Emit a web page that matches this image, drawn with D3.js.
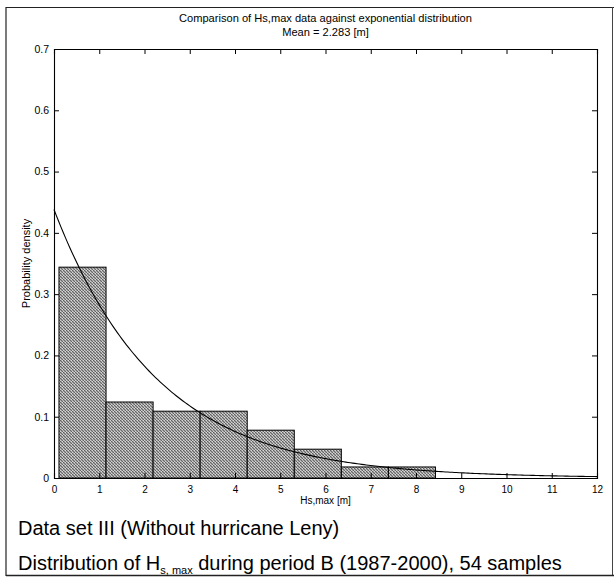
<!DOCTYPE html>
<html>
<head>
<meta charset="utf-8">
<script src="https://cdn.jsdelivr.net/npm/d3@7/dist/d3.min.js"></script>
<style>
  html, body { margin: 0; padding: 0; background: #fff; }
  svg { display: block; font-family: "Liberation Sans", Arial, Helvetica, sans-serif; }
</style>
</head>
<body>
<svg id="chart" width="614" height="577"></svg>
<script>
// Histogram of Hs,max (bin edges in metres) and its probability density per bin
const binEdges = [0.11, 1.15, 2.19, 3.23, 4.27, 5.31, 6.35, 7.39, 8.43];
const density = [0.344, 0.124, 0.109, 0.109, 0.078, 0.047, 0.018, 0.018];
// Mean of the sample, used for the fitted exponential density
const meanHs = 2.283;
const xTicks = [0, 1, 2, 3, 4, 5, 6, 7, 8, 9, 10, 11, 12];
const yTicks = [0, 0.1, 0.2, 0.3, 0.4, 0.5, 0.6, 0.7];
const curveX = d3.range(0, 12.001, 0.05);

const svg = d3.select("#chart");
const m = { left: 54, right: 597, top: 49, bottom: 478 };

const x = d3.scaleLinear().domain([0, 12]).range([m.left, m.right]);
const y = d3.scaleLinear().domain([0, 0.7]).range([m.bottom, m.top]);

// halftone-like grey fill for the bars
const defs = svg.append("defs");
const pat = defs.append("pattern").attr("id", "dither")
  .attr("width", 3).attr("height", 3).attr("patternUnits", "userSpaceOnUse");
pat.append("rect").attr("width", 3).attr("height", 3).attr("fill", "#a8a8a8");
pat.append("rect").attr("x", 0).attr("y", 0).attr("width", 1).attr("height", 1).attr("fill", "#5e5e5e");
pat.append("rect").attr("x", 1).attr("y", 1).attr("width", 1).attr("height", 1).attr("fill", "#6a6a6a");
pat.append("rect").attr("x", 2).attr("y", 2).attr("width", 1).attr("height", 1).attr("fill", "#646464");
pat.append("rect").attr("x", 2).attr("y", 0).attr("width", 1).attr("height", 1).attr("fill", "#d8d8d8");
pat.append("rect").attr("x", 0).attr("y", 2).attr("width", 1).attr("height", 1).attr("fill", "#cfcfcf");

// outer frame of the figure
svg.append("line").attr("x1", 6).attr("x2", 614).attr("y1", 7.5).attr("y2", 7.5)
  .attr("stroke", "#222").attr("stroke-width", 1.2);
svg.append("line").attr("x1", 6).attr("x2", 6).attr("y1", 7).attr("y2", 576)
  .attr("stroke", "#222").attr("stroke-width", 1.2);
svg.append("line").attr("x1", 612.5).attr("x2", 612.5).attr("y1", 7).attr("y2", 576)
  .attr("stroke", "#444").attr("stroke-width", 1);
svg.append("line").attr("x1", 6).attr("x2", 614).attr("y1", 575.5).attr("y2", 575.5)
  .attr("stroke", "#222").attr("stroke-width", 1.5);

// bars
const bins = density.map((d, i) => ({ x0: binEdges[i], x1: binEdges[i + 1], v: d }));
svg.append("g").selectAll("rect").data(bins).join("rect")
  .attr("x", d => x(d.x0))
  .attr("y", d => y(d.v))
  .attr("width", d => x(d.x1) - x(d.x0))
  .attr("height", d => y(0) - y(d.v))
  .attr("fill", "url(#dither)")
  .attr("stroke", "#000")
  .attr("stroke-width", 1);

// exponential density with the sample mean
const line = d3.line().x(d => x(d)).y(d => y(Math.exp(-d / meanHs) / meanHs));
svg.append("path").datum(curveX).attr("d", line)
  .attr("fill", "none").attr("stroke", "#000").attr("stroke-width", 1.1);

// axes box with inward ticks on all four sides
const tickLen = 5;
const axB = svg.append("g").attr("transform", `translate(0,${m.bottom})`)
  .call(d3.axisBottom(x).tickValues(xTicks).tickSize(-tickLen).tickPadding(3).tickFormat(d3.format("d")));
const axT = svg.append("g").attr("transform", `translate(0,${m.top})`)
  .call(d3.axisTop(x).tickValues(xTicks).tickSize(-tickLen).tickFormat(""));
const axL = svg.append("g").attr("transform", `translate(${m.left},0)`)
  .call(d3.axisLeft(y).tickValues(yTicks).tickSize(-tickLen).tickPadding(5)
    .tickFormat(d => d === 0 ? "0" : d3.format(".1f")(d)));
const axR = svg.append("g").attr("transform", `translate(${m.right},0)`)
  .call(d3.axisRight(y).tickValues(yTicks).tickSize(-tickLen).tickFormat(""));

[axB, axT, axL, axR].forEach(g => {
  g.select(".domain").attr("stroke", "#000").attr("stroke-width", 1.1);
  g.selectAll(".tick line").attr("stroke", "#000");
  g.selectAll("text").attr("font-family", "Liberation Sans, Arial, sans-serif")
    .attr("font-size", 10.5).attr("fill", "#000");
});
// bottom tick labels sit tight under the axis
axB.selectAll(".tick text").attr("y", 0).attr("dy", 0).attr("transform", "translate(0,15)")
  .attr("font-size", 10);

// titles
svg.append("text").attr("x", (m.left + m.right) / 2).attr("y", 22)
  .attr("text-anchor", "middle").attr("font-size", 11.1)
  .text("Comparison of Hs,max data against exponential distribution");
svg.append("text").attr("x", (m.left + m.right) / 2).attr("y", 36)
  .attr("text-anchor", "middle").attr("font-size", 11.1)
  .text("Mean = 2.283 [m]");

svg.append("text").attr("x", (m.left + m.right) / 2).attr("y", 504)
  .attr("text-anchor", "middle").attr("font-size", 10)
  .text("Hs,max [m]");
svg.append("text")
  .attr("transform", `translate(30,${(m.top + m.bottom) / 2}) rotate(-90)`)
  .attr("text-anchor", "middle").attr("font-size", 11)
  .text("Probability density");

// captions below the chart
svg.append("text").attr("x", 18).attr("y", 535).attr("font-size", 20)
  .text("Data set III (Without hurricane Leny)");
const cap = svg.append("text").attr("x", 18).attr("y", 570).attr("font-size", 20);
cap.append("tspan").text("Distribution of H");
cap.append("tspan").attr("font-size", 11).attr("dy", 4).text("s, max");
cap.append("tspan").attr("dy", -4).text(" during period B (1987-2000), 54 samples");
</script>
</body>
</html>
